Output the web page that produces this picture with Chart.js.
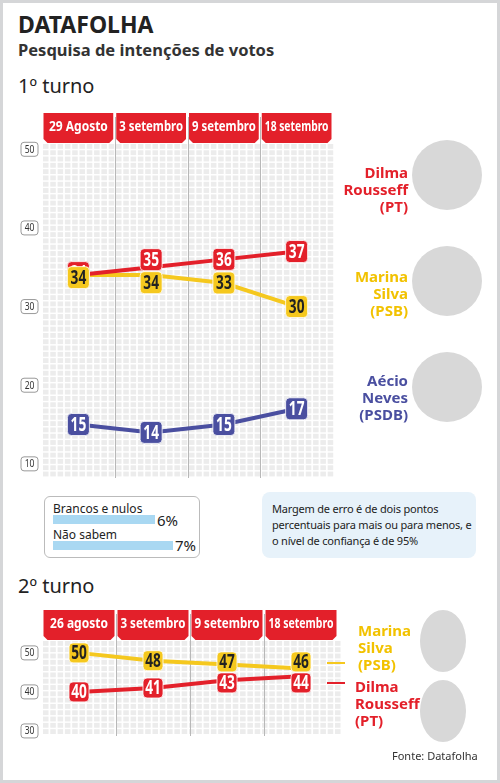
<!DOCTYPE html><html><head><meta charset="utf-8">
<script src="https://cdn.jsdelivr.net/npm/chart.js@4"></script>
<style>
body{margin:0;width:500px;height:783px;background:#fff;font-family:'Noto Sans',sans-serif;position:relative;overflow:hidden}
.frame{position:absolute;left:0;top:0;width:494px;height:777px;border:3px solid #d5d6d8}
.abs{position:absolute}
.t1{left:18px;top:8px;font-size:23px;font-weight:bold;color:#222}
.t2{left:18px;top:38px;font-size:16.5px;font-weight:bold;color:#333}
.turno{font-size:20px;color:#222}
.nm{font-weight:bold;font-size:15px;line-height:17px;text-align:right}
.ph{border-radius:50%;background:#d8d8d8}
</style></head><body>
<div class="frame"></div>
<div class="abs t1">DATAFOLHA</div>
<div class="abs t2">Pesquisa de intenções de votos</div>
<div class="abs turno" style="left:18px;top:72px">1º turno</div>
<div class="abs turno" style="left:18px;top:572px">2º turno</div>
<canvas id="c1" class="abs" style="left:0;top:100px"></canvas>
<canvas id="c2" class="abs" style="left:0;top:600px"></canvas>

<div class="abs nm" style="left:340px;top:164px;width:68px;color:#e3202a">Dilma<br>Rousseff<br>(PT)</div>
<div class="abs nm" style="left:340px;top:268px;width:68px;color:#f2c200">Marina<br>Silva<br>(PSB)</div>
<div class="abs nm" style="left:340px;top:372px;width:68px;color:#4a4fa0">Aécio<br>Neves<br>(PSDB)</div>
<div class="abs ph" style="left:412px;top:140px;width:70px;height:70px"></div>
<div class="abs ph" style="left:412px;top:246px;width:70px;height:70px"></div>
<div class="abs ph" style="left:412px;top:352px;width:70px;height:70px"></div>

<div class="abs" style="left:44px;top:496px;width:154px;height:60px;border:1px solid #bbb;border-radius:6px;font-size:12px;color:#222">
 <div class="abs" style="left:8px;top:3px">Brancos e nulos</div>
 <div class="abs" style="left:8px;top:18px;width:102px;height:9px;background:#a9d8f2"></div>
 <div class="abs" style="left:112px;top:13px;font-size:15px">6%</div>
 <div class="abs" style="left:8px;top:29px">Não sabem</div>
 <div class="abs" style="left:8px;top:44px;width:120px;height:9px;background:#a9d8f2"></div>
 <div class="abs" style="left:130px;top:38px;font-size:15px">7%</div>
</div>
<div class="abs" style="left:262px;top:492px;width:214px;height:66px;background:#e7f2fa;border-radius:8px;font-size:11px;line-height:16px;color:#222;padding:9px 0 0 10px;box-sizing:border-box;letter-spacing:-0.2px">Margem de erro é de dois pontos percentuais para mais ou para menos, e o nível de confiança é de 95%</div>

<div class="abs" style="left:327px;top:662px;width:18px;height:2px;background:#f5c81e"></div>
<div class="abs" style="left:327px;top:682px;width:18px;height:2px;background:#e3202a"></div>
<div class="abs nm" style="left:358px;top:622px;width:60px;text-align:left;color:#f2c200">Marina<br>Silva<br>(PSB)</div>
<div class="abs nm" style="left:355px;top:678px;width:70px;text-align:left;color:#e3202a">Dilma<br>Rousseff<br>(PT)</div>
<div class="abs ph" style="left:420px;top:610px;width:46px;height:62px"></div>
<div class="abs ph" style="left:420px;top:680px;width:46px;height:62px"></div>
<div class="abs" style="left:392px;top:748px;font-size:11px;color:#333">Fonte: Datafolha</div>

<script>
const cats1=['29 Agosto','3 setembro','9 setembro','18 setembro'];
const dilma1=[34,35,36,37];
const marina1=[34,34,33,30];
const aecio1=[15,14,15,17];
const ticks1=[50,40,30,20,10];
const cats2=['26 agosto','3 setembro','9 setembro','18 setembro'];
const marina2=[50,48,47,46];
const dilma2=[40,41,43,44];
const ticks2=[50,40,30];
const RED='#e3202a',YEL='#f5c81e',BLU='#4a4fa0';
const FONT="'Noto Sans','DejaVu Sans',sans-serif";

function rr(ctx,x,y,w,h,r){ctx.beginPath();ctx.moveTo(x+r,y);ctx.arcTo(x+w,y,x+w,y+h,r);ctx.arcTo(x+w,y+h,x,y+h,r);ctx.arcTo(x,y+h,x,y,r);ctx.arcTo(x,y,x+w,y,r);ctx.closePath();}
function narrow(ctx,txt,x,y,sx){ctx.save();ctx.translate(x,y);ctx.scale(sx,1);ctx.fillText(txt,0,0);ctx.restore();}

function deco(ticks,tabH,boxW,boxH){return {
 id:'deco',
 beforeDatasetsDraw(ch){
  const {ctx,chartArea:a,scales:{x,y}}=ch;ctx.save();
  ctx.fillStyle='#fff';ctx.fillRect(a.left,a.top,a.right-a.left,a.bottom-a.top);
  ctx.fillStyle='#ececec';
  for(let yy=a.top+1;yy<a.bottom-1;yy+=6.3)for(let xx=a.left+1;xx<a.right-1;xx+=7.3)ctx.fillRect(xx,yy,5.5,4.8);
  const n=x.ticks.length,cw=(a.right-a.left)/n;
  ctx.strokeStyle='#b8b8b8';ctx.lineWidth=1;
  for(let i=1;i<n;i++){const px=Math.round(x.getPixelForValue(i)-cw/2)+0.5;ctx.beginPath();ctx.moveTo(px,a.top-tabH);ctx.lineTo(px,a.bottom);ctx.stroke();}
  for(let i=0;i<n;i++){const cx=x.getPixelForValue(i);const l=cx-cw/2+1.5,w=cw-3;
   ctx.fillStyle=RED;ctx.fillRect(l,a.top-tabH-4,w,tabH);
   ctx.beginPath();ctx.moveTo(l,a.top-4);ctx.lineTo(l+w,a.top-4);ctx.lineTo(l+w-4,a.top);ctx.lineTo(l+4,a.top);ctx.fill();
   ctx.fillStyle='#fff';ctx.font='bold 15px '+FONT;ctx.textAlign='center';ctx.textBaseline='middle';
   const tw=ctx.measureText(ch.data.labels[i]).width;
   narrow(ctx,ch.data.labels[i],cx,a.top-tabH/2-3,Math.min(0.8,(w-6)/tw));}
  ctx.font='10px '+FONT;ctx.textAlign='center';ctx.textBaseline='middle';
  for(const t of ticks){const py=y.getPixelForValue(t);ctx.fillStyle='#fff';ctx.strokeStyle='#999';rr(ctx,a.left-21,py-7,17,14,3);ctx.fill();ctx.stroke();ctx.fillStyle='#333';narrow(ctx,String(t),a.left-12.5,py+0.5,0.85);}
  ctx.restore();},
 afterDatasetsDraw(ch){
  const ctx=ch.ctx;ctx.save();ctx.font='bold 19px '+FONT;ctx.textAlign='center';ctx.textBaseline='middle';
  const items=[];
  ch.data.datasets.forEach((ds,di)=>{ch.getDatasetMeta(di).data.forEach((p,i)=>{items.push({di,i,x:p.x,y:p.y,v:ds.data[i],col:ds.borderColor});});});
  // separate overlapping labels at the same category
  const n=ch.data.labels.length;
  for(let i=0;i<n;i++){const g=items.filter(o=>o.i===i).sort((a,b)=>a.y-b.y);
   for(let k=1;k<g.length;k++){const A=g[k-1],B=g[k];const gap=A.v===B.v?5:boxH+1;const d=B.y-A.y;
    if(d<gap){const s=(gap-d)/2;A.y-=s;B.y+=s;}}}
  items.forEach(o=>{
   ctx.fillStyle=o.col;ctx.strokeStyle='rgba(255,255,255,0.8)';ctx.lineWidth=1;
   rr(ctx,o.x-boxW/2,o.y-boxH/2,boxW,boxH,4);ctx.fill();ctx.stroke();
   ctx.fillStyle=o.col===YEL?'#222':'#fff';narrow(ctx,String(o.v),o.x,o.y+1,0.72);});
  ctx.restore();}
};}

function mk(id,pad,labels,sets,min,max,ticks,tabH,bw,bh){
 const c=document.getElementById(id);
 return new Chart(c,{type:'line',data:{labels,datasets:sets.map(([d,col])=>({data:d,borderColor:col,borderWidth:4,pointRadius:0,tension:0}))},
 options:{responsive:false,animation:false,devicePixelRatio:1,layout:{padding:pad},
  plugins:{legend:{display:false},tooltip:{enabled:false}},
  scales:{x:{type:'category',offset:true,display:false},y:{min,max,display:false}}},
 plugins:[deco(ticks,tabH,bw,bh)]});
}
function size(id,w,h){const c=document.getElementById(id);c.width=w;c.height=h;c.style.width=w+'px';c.style.height=h+'px';}
size('c1',345,380);size('c2',345,140);
mk('c1',{left:42,right:12,top:43,bottom:2},cats1,[[dilma1,RED],[marina1,YEL],[aecio1,BLU]],8.2,50.8,ticks1,26,22,22);
mk('c2',{left:42,right:7,top:40,bottom:4},cats2,[[dilma2,RED],[marina2,YEL]],28.7,53.3,ticks2,26,20,20);
</script></body></html>
